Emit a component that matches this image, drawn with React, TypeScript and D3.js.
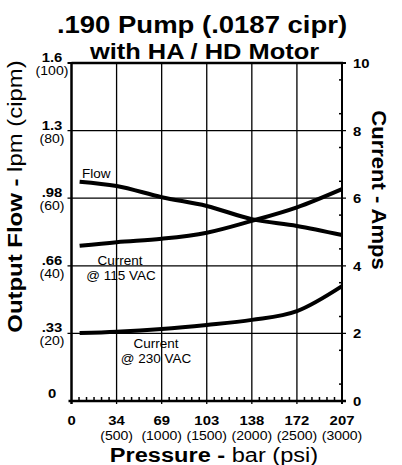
import React from "react";
import * as d3 from "d3";

const pressurePsi = [90, 500, 1000, 1500, 2000, 2500, 3000];
const flowCipm = [64.9, 63.6, 60.3, 57.7, 53.8, 51.8, 49.1];
const current115 = [4.59, 4.7, 4.8, 4.98, 5.33, 5.73, 6.27];
const current230 = [2.01, 2.05, 2.13, 2.25, 2.4, 2.66, 3.4];

const psiTicks = [0, 500, 1000, 1500, 2000, 2500, 3000];
const barLabels = ["0", "34", "69", "103", "138", "172", "207"];
const psiLabels = ["", "(500)", "(1000)", "(1500)", "(2000)", "(2500)", "(3000)"];
const cipmTicks = [0, 20, 40, 60, 80, 100];
const lpmLabels = ["0", ".33", ".66", ".98", "1.3", "1.6"];
const cipmLabels = ["", "(20)", "(40)", "(60)", "(80)", "(100)"];
const ampTicks = [0, 2, 4, 6, 8, 10];

const FONT = "'Liberation Sans', Arial, Helvetica, sans-serif";

function T(props: any) {
  const { x, y, rot = 0, sx = 1, children, ...rest } = props;
  return (
    <text transform={`translate(${x},${y}) rotate(${rot}) scale(${sx},1)`} {...rest}>
      {children}
    </text>
  );
}

export default function App() {
  const x = d3.scaleLinear().domain([0, 3000]).range([71.5, 342]);
  const yA = d3.scaleLinear().domain([0, 10]).range([401, 63]);
  const yF = d3.scaleLinear().domain([0, 100]).range([401, 63]);

  const lineA = d3
    .line<number>()
    .x((_, i) => x(pressurePsi[i]))
    .y((d) => yA(d))
    .curve(d3.curveMonotoneX);
  const lineF = d3
    .line<number>()
    .x((_, i) => x(pressurePsi[i]))
    .y((d) => yF(d))
    .curve(d3.curveMonotoneX);

  const minorX = d3
    .range(0, 3001, 500 / 6)
    .filter((v) => Math.abs(v % 500) > 1 && Math.abs((v % 500) - 500) > 1);
  const minorA = d3.range(0.5, 10, 1);

  const [x0, x1] = x.range();
  const [yb, yt] = yA.range();

  return (
    <svg
      width={402}
      height={465}
      style={{ position: "absolute", left: 0, top: 0, background: "#fff" }}
      fontFamily={FONT}
    >
      <rect width={402} height={465} fill="#fff" />
      {/* title */}
      <T x={202} y={33} sx={1.18} textAnchor="middle" fontWeight="bold" fontSize={23.3}>
        .190 Pump (.0187 cipr)
      </T>
      <T x={204.5} y={59} sx={1.14} textAnchor="middle" fontWeight="bold" fontSize={22.3}>
        with HA / HD Motor
      </T>

      {/* vertical gridlines */}
      {psiTicks.slice(1, -1).map((t) => (
        <line key={"gx" + t} x1={x(t)} x2={x(t)} y1={yt} y2={yb + 3} stroke="#000" strokeWidth={1.3} />
      ))}
      {/* horizontal gridlines */}
      {ampTicks.slice(1, -1).map((t) => (
        <line key={"gy" + t} x1={x0 - 4} x2={x1 + 4} y1={yA(t)} y2={yA(t)} stroke="#000" strokeWidth={1.3} />
      ))}
      {/* minor ticks bottom */}
      {minorX.map((t) => (
        <line key={"mx" + t} x1={x(t)} x2={x(t)} y1={yb} y2={yb - 4} stroke="#000" strokeWidth={1.5} />
      ))}
      {/* minor ticks right */}
      {minorA.map((t) => (
        <line key={"ma" + t} x1={x1} x2={x1 - 3} y1={yA(t)} y2={yA(t)} stroke="#000" strokeWidth={1.5} />
      ))}
      {/* frame */}
      <line x1={x0} x2={x1 + 1} y1={yt} y2={yt} stroke="#000" strokeWidth={2.5} />
      <line x1={x0 - 3} x2={x1 + 4} y1={yb} y2={yb} stroke="#000" strokeWidth={2.5} />
      <line x1={x0} x2={x0} y1={yt - 1} y2={yb + 3} stroke="#000" strokeWidth={2.5} />
      <line x1={x1} x2={x1} y1={yt - 1} y2={yb + 3} stroke="#000" strokeWidth={2} />
      <line x1={x0 - 4} x2={x0} y1={yt} y2={yt} stroke="#000" strokeWidth={2} />
      <line x1={x1} x2={x1 + 4} y1={yt} y2={yt} stroke="#000" strokeWidth={2} />

      {/* curves */}
      <path d={lineF(flowCipm) || ""} fill="none" stroke="#000" strokeWidth={4} />
      <path d={lineA(current115) || ""} fill="none" stroke="#000" strokeWidth={4} />
      <path d={lineA(current230) || ""} fill="none" stroke="#000" strokeWidth={4} />

      {/* curve labels */}
      <g fontSize={13.5}>
        <text x={82} y={178}>Flow</text>
        <text x={120} y={265} textAnchor="middle">Current</text>
        <text x={121} y={280} textAnchor="middle">@ 115 VAC</text>
        <text x={156} y={348} textAnchor="middle">Current</text>
        <text x={156} y={363} textAnchor="middle">@ 230 VAC</text>
      </g>

      {/* left tick labels */}
      {cipmTicks.map((t, i) => (
        <g key={"lt" + t}>
          <T x={52} y={yF(t) - (i === 0 ? 3 : 1)} sx={1.1} textAnchor="middle" fontWeight="bold" fontSize={13.5}>
            {lpmLabels[i]}
          </T>
          {cipmLabels[i] && (
            <T x={52} y={yF(t) + 12} sx={1.08} textAnchor="middle" fontSize={13}>
              {cipmLabels[i]}
            </T>
          )}
        </g>
      ))}
      {/* right tick labels */}
      {ampTicks.map((t) => (
        <T key={"rt" + t} x={353} y={yA(t) + 5} sx={1.1} fontWeight="bold" fontSize={13.5}>
          {t}
        </T>
      ))}
      {/* bottom tick labels */}
      {psiTicks.map((t, i) => (
        <g key={"bt" + t}>
          <T x={x(t)} y={425} sx={1.1} textAnchor="middle" fontWeight="bold" fontSize={13.5}>
            {barLabels[i]}
          </T>
          {psiLabels[i] && (
            <T x={x(t)} y={440} sx={1.08} textAnchor="middle" fontSize={13}>
              {psiLabels[i]}
            </T>
          )}
        </g>
      ))}

      {/* axis titles */}
      <T x={214} y={461.5} sx={1.21} textAnchor="middle" fontSize={19.5}>
        <tspan fontWeight="bold">Pressure - </tspan>
        <tspan>bar (psi)</tspan>
      </T>
      <T x={22} y={196.5} rot={-90} sx={1.14} textAnchor="middle" fontSize={21}>
        <tspan fontWeight="bold">Output Flow - </tspan>
        <tspan>lpm (cipm)</tspan>
      </T>
      <T x={372} y={190} rot={90} sx={1.1} textAnchor="middle" fontSize={20} fontWeight="bold">
        Current - Amps
      </T>
    </svg>
  );
}
